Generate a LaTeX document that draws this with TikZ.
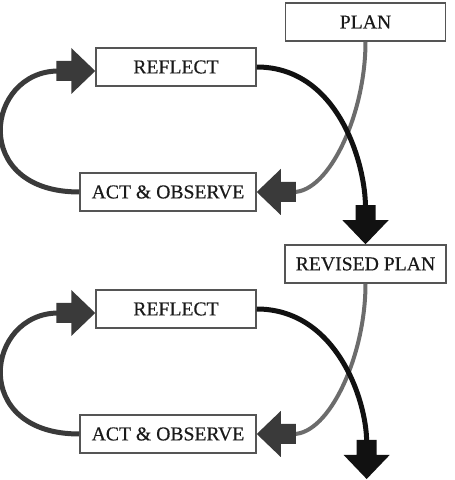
\documentclass[tikz,border=0pt]{standalone}
\usepackage{fontspec}
\setmainfont{Liberation Serif}
\usepackage{xcolor}
\usetikzlibrary{arrows.meta}
\definecolor{loopgray}{HTML}{3A3A3A}
\definecolor{plangray}{HTML}{6C6C6C}
\definecolor{boxgray}{HTML}{555555}
\definecolor{textdark}{HTML}{1A1A1A}
\definecolor{cycleblack}{HTML}{111111}
% block arrow head: short stub and wide triangle
\pgfdeclarearrow{
  name=BlockHead,
  setup code={
    \pgfarrowssettipend{0pt}
    \pgfarrowssetlineend{-1.1cm}
    \pgfarrowssetbackend{-1.17cm}
    \pgfarrowssetvisualbackend{-1.17cm}
    \pgfarrowshullpoint{0pt}{0pt}
    \pgfarrowshullpoint{-1.17cm}{0.69cm}
    \pgfarrowshullpoint{-1.17cm}{-0.69cm}
  },
  drawing code={
    \pgfpathmoveto{\pgfpoint{0pt}{0pt}}
    \pgfpathlineto{\pgfpoint{-0.72cm}{0.69cm}}
    \pgfpathlineto{\pgfpoint{-0.72cm}{0.3cm}}
    \pgfpathlineto{\pgfpoint{-1.17cm}{0.3cm}}
    \pgfpathlineto{\pgfpoint{-1.17cm}{-0.3cm}}
    \pgfpathlineto{\pgfpoint{-0.72cm}{-0.3cm}}
    \pgfpathlineto{\pgfpoint{-0.72cm}{-0.69cm}}
    \pgfpathclose
    \pgfusepathqfill
  }
}
\tikzset{
  stagebox/.style={draw=boxgray,line width=0.45mm,fill=white,minimum height=1.14cm,
    inner sep=0pt,text=textdark,font=\fontsize{16.8}{20}\selectfont\addfontfeature{FakeBold=0.4}},
  loopflow/.style={line width=1.5mm,draw=loopgray,-{BlockHead}},
  planflow/.style={line width=1.2mm,draw=plangray,-{BlockHead[color=loopgray]}},
  cycleflow/.style={line width=1.5mm,draw=cycleblack,-{BlockHead}}
}
\begin{document}
\begin{tikzpicture}
\useasboundingbox (0,0) rectangle (13.62,14.4);

% first cycle
\node[stagebox, minimum width=4.8cm] (plan) at (10.965,13.74) {PLAN};
\node[stagebox, minimum width=4.8cm] (reflectA) at (5.28,12.39) {REFLECT};
\node[stagebox, minimum width=5.28cm] (actA) at (5.04,8.64) {ACT \& OBSERVE};

% second cycle
\node[stagebox, minimum width=4.83cm] (revised) at (10.965,6.48) {REVISED PLAN};
\node[stagebox, minimum width=4.8cm] (reflectB) at (5.28,5.13) {REFLECT};
\node[stagebox, minimum width=5.28cm] (actB) at (5.04,1.38) {ACT \& OBSERVE};
\coordinate (nextcycle) at (11.0,0.03);

\draw[loopflow] (actA.west) to[out=180,in=180,looseness=2.3] ([yshift=-0.12cm]reflectA.west);
\draw[planflow] (plan.south) to[out=-90,in=0] (actA.east);
\draw[cycleflow] (reflectA.east) to[out=0,in=90] (revised.north);

\draw[loopflow] (actB.west) to[out=180,in=180,looseness=2.3] ([yshift=-0.12cm]reflectB.west);
\draw[planflow] (revised.south) to[out=-90,in=0] (actB.east);
\draw[cycleflow] (reflectB.east) to[out=0,in=90] (nextcycle);
\end{tikzpicture}
\end{document}
